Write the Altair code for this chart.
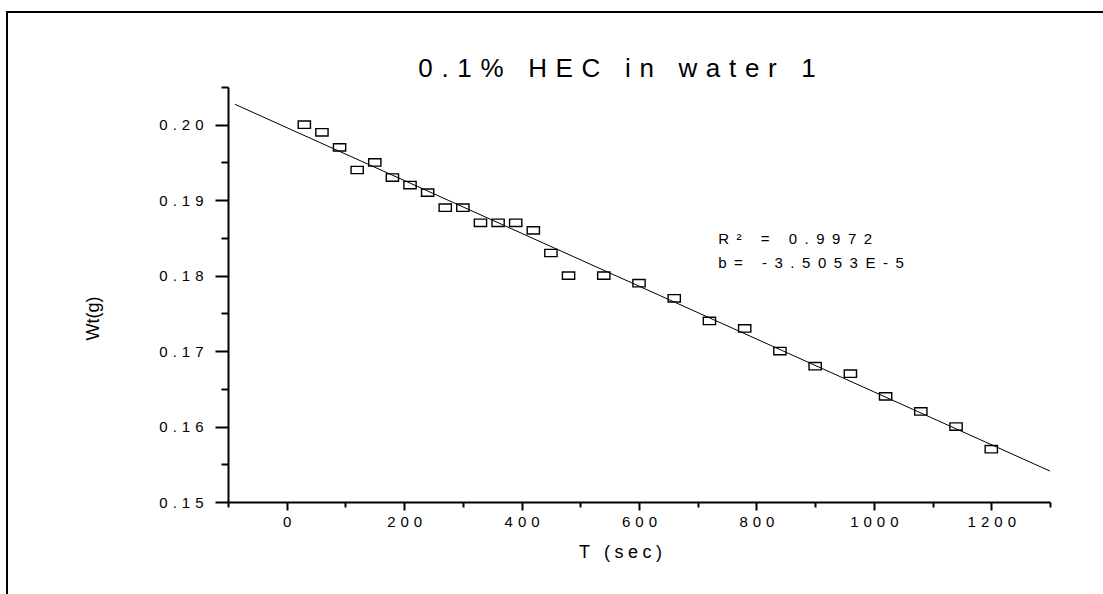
import altair as alt
import pandas as pd

# ---- data ----
T_SEC = [30, 60, 90, 120, 150, 180, 210, 240, 270, 300, 330, 360, 390, 420, 450,
         480, 540, 600, 660, 720, 780, 840, 900, 960, 1020, 1080, 1140, 1200]
WT_G = [0.200, 0.199, 0.197, 0.194, 0.195, 0.193, 0.192, 0.191, 0.189, 0.189,
        0.187, 0.187, 0.187, 0.186, 0.183, 0.180, 0.180, 0.179, 0.177, 0.174,
        0.173, 0.170, 0.168, 0.167, 0.164, 0.162, 0.160, 0.157]
FIT_T = [-88, 1300]
FIT_WT = [0.2027, 0.1541]

X_DOMAIN = [-100, 1300]
Y_DOMAIN = [0.15, 0.205]
X_MAJOR = [0, 200, 400, 600, 800, 1000, 1200]
X_MINOR = [-100, 100, 300, 500, 700, 900, 1100, 1300]
Y_MAJOR = [0.15, 0.16, 0.17, 0.18, 0.19, 0.20]
Y_MINOR = [0.155, 0.165, 0.175, 0.185, 0.195, 0.205]

TITLE = "0.1% HEC in water 1"
X_TITLE = "T (sec)"
Y_TITLE = "Wt(g)"
NOTES = ["R² = 0.9972", "b= -3.5053E-5"]
NOTE_T = [735, 735]
NOTE_WT = [0.18425, 0.18107]

FONT = "Liberation Sans"
SP_TICK = "\u2004"
SP_AXT = "\u2005"
SP_NOTE = "\u2002"


def spaced(text, sp):
    return sp.join(text)


pts = pd.DataFrame({"t": T_SEC, "wt": WT_G})
fit = pd.DataFrame({"t": FIT_T, "wt": FIT_WT})
notes = pd.DataFrame({"t": NOTE_T, "wt": NOTE_WT,
                      "label": [spaced(n, SP_NOTE) for n in NOTES]})
title_df = pd.DataFrame({"label": [spaced(TITLE, SP_TICK)]})
frame_df = pd.DataFrame({"k": [0]})

x_scale = alt.Scale(domain=X_DOMAIN, nice=False, zero=False)
y_scale = alt.Scale(domain=Y_DOMAIN, nice=False, zero=False)

x_major = alt.Axis(
    orient="bottom", values=X_MAJOR, grid=False,
    domain=True, domainColor="black", domainWidth=2,
    ticks=True, tickColor="black", tickWidth=2, tickSize=8,
    labelExpr=f"join(split(format(datum.value, 'd'), ''), '{SP_TICK}')",
    labelFont=FONT, labelFontSize=15, labelColor="black", labelPadding=4,
    labelOverlap=False,
    title=spaced(X_TITLE, SP_AXT), titleFont=FONT, titleFontSize=18,
    titleFontWeight="normal", titleColor="black",
    titleX=392, titleY=55, titleAlign="center", titleBaseline="alphabetic",
)
x_minor = alt.Axis(
    orient="bottom", values=X_MINOR, grid=False, domain=False, labels=False,
    ticks=True, tickColor="black", tickWidth=2, tickSize=5, title=None,
)
y_major = alt.Axis(
    orient="left", values=Y_MAJOR, grid=False,
    domain=True, domainColor="black", domainWidth=2,
    ticks=True, tickColor="black", tickWidth=2, tickSize=13,
    labelExpr=f"join(split(format(datum.value, '.2f'), ''), '{SP_TICK}')",
    labelFont=FONT, labelFontSize=15, labelColor="black", labelPadding=12,
    labelOverlap=False,
    title=Y_TITLE, titleFont=FONT, titleFontSize=18, titleFontWeight="normal",
    titleColor="black", titleX=-135, titleY=231, titleAngle=270,
    titleAlign="center", titleBaseline="middle",
)
y_minor = alt.Axis(
    orient="left", values=Y_MINOR, grid=False, domain=False, labels=False,
    ticks=True, tickColor="black", tickWidth=2, tickSize=7, title=None,
)

frame = alt.Chart(frame_df).mark_rect(
    filled=False, stroke="black", strokeWidth=2
).encode(
    x=alt.value(-221), x2=alt.value(1000), y=alt.value(-75), y2=alt.value(700)
)

fit_line = alt.Chart(fit).mark_line(color="black", strokeWidth=1).encode(
    x=alt.X("t:Q", scale=x_scale, axis=x_minor),
    y=alt.Y("wt:Q", scale=y_scale, axis=y_minor),
)

points = alt.Chart(pts).mark_point(
    shape="M-1,-0.6H1V0.6H-1Z", size=150, filled=False,
    color="black", strokeWidth=1.4, opacity=1,
).encode(
    x=alt.X("t:Q", scale=x_scale, axis=x_major),
    y=alt.Y("wt:Q", scale=y_scale, axis=y_major),
)

note_text = alt.Chart(notes).mark_text(
    align="left", baseline="alphabetic", font=FONT, fontSize=15, color="black"
).encode(
    x=alt.X("t:Q", scale=x_scale, axis=None),
    y=alt.Y("wt:Q", scale=y_scale, axis=None),
    text="label:N",
)

title_text = alt.Chart(title_df).mark_text(
    align="center", baseline="alphabetic", font=FONT, fontSize=26, color="black"
).encode(
    x=alt.value(389), y=alt.value(-10), text="label:N"
)

chart = alt.layer(frame, fit_line, points, note_text, title_text).resolve_axis(
    x="independent", y="independent"
).properties(
    width=822, height=415,
    padding={"left": 228, "top": 87, "right": 53, "bottom": 92},
    autosize=alt.AutoSizeParams(type="none"),
    background="white",
).configure_view(strokeWidth=0)

chart.save("out.html", embed_options={"renderer": "svg", "actions": False})
